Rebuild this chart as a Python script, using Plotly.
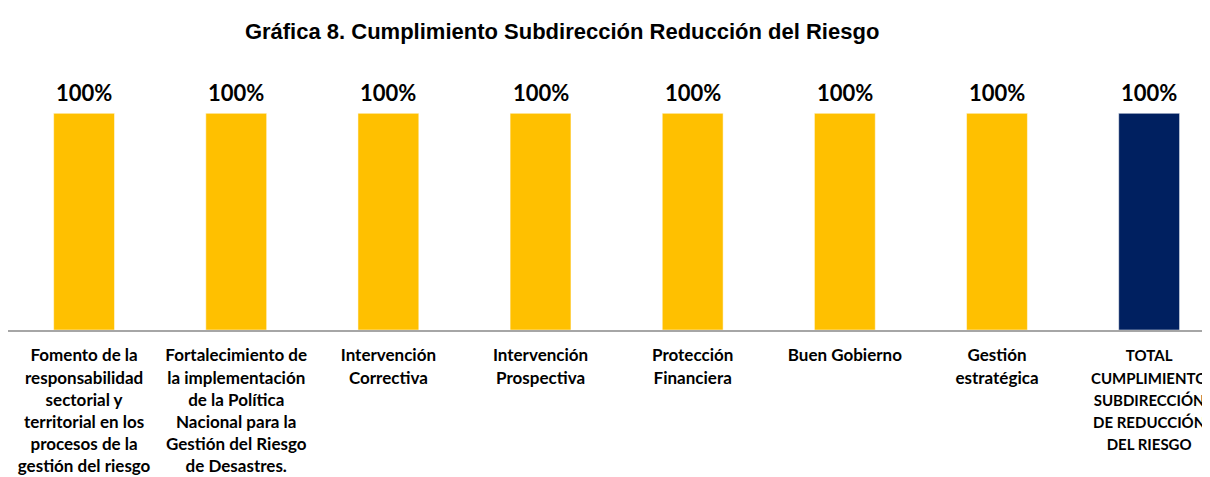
import plotly.graph_objects as go

# Datos de la gráfica
categorias = [
    "Fomento de la<br>responsabilidad<br>sectorial y<br>territorial en los<br>procesos de la<br>gestión del riesgo",
    "Fortalecimiento de<br>la implementación<br>de la Política<br>Nacional para la<br>Gestión del Riesgo<br>de Desastres.",
    "Intervención<br>Correctiva",
    "Intervención<br>Prospectiva",
    "Protección<br>Financiera",
    "Buen Gobierno",
    "Gestión<br>estratégica",
    "TOTAL<br>CUMPLIMIENTO<br>SUBDIRECCIÓN<br>DE REDUCCIÓN<br>DEL RIESGO",
]
cumplimiento = [1.0, 1.0, 1.0, 1.0, 1.0, 1.0, 1.0, 1.0]
colores = ["#FFC000"] * 7 + ["#002060"]

posiciones = list(range(len(categorias)))

# la última etiqueta va un poco más pequeña para que quepa en el borde
etiquetas = [f"<b>{c}</b>" for c in categorias[:-1]]
etiquetas.append(f"<span style='font-size:15px'><b>{categorias[-1]}</b></span>")

fig = go.Figure()
fig.add_trace(go.Bar(
    x=posiciones,
    y=cumplimiento,
    marker_color=colores,
    width=0.4,
    cliponaxis=False,
))

# etiquetas de valor encima de cada barra
for xi, v in zip(posiciones, cumplimiento):
    fig.add_annotation(
        x=xi, y=v,
        text=f"<b>{v:.0%}</b>",
        showarrow=False,
        yanchor="middle",
        yshift=21,
        font=dict(family="Lato", size=22, color="black"),
    )

fig.update_layout(
    width=1202,
    height=469,
    template="plotly_white",
    title=dict(
        text="<b>Gráfica 8. Cumplimiento Subdirección Reducción del Riesgo</b>",
        x=0.461,
        xanchor="center",
        y=0.95,
        yanchor="middle",
        font=dict(family="Liberation Sans", size=22, color="#000000"),
    ),
    margin=dict(l=0, r=0, t=62, b=147),
    paper_bgcolor="white",
    plot_bgcolor="white",
    showlegend=False,
)
fig.update_xaxes(
    tickmode="array",
    tickvals=posiciones,
    ticktext=etiquetas,
    tickfont=dict(family="Lato", size=17, color="#000000"),
    range=[-0.5, 7.4],
    showline=True,
    linecolor="#A6A6A6",
    linewidth=2,
    showgrid=False,
    ticks="",
    tickangle=0,
    ticklabelstandoff=9,
    automargin=False,
    ticklabeloverflow="allow",
)
fig.update_yaxes(
    range=[0, 1.2],
    visible=False,
    showgrid=False,
    automargin=False,
)

fig.write_html("out.html")
